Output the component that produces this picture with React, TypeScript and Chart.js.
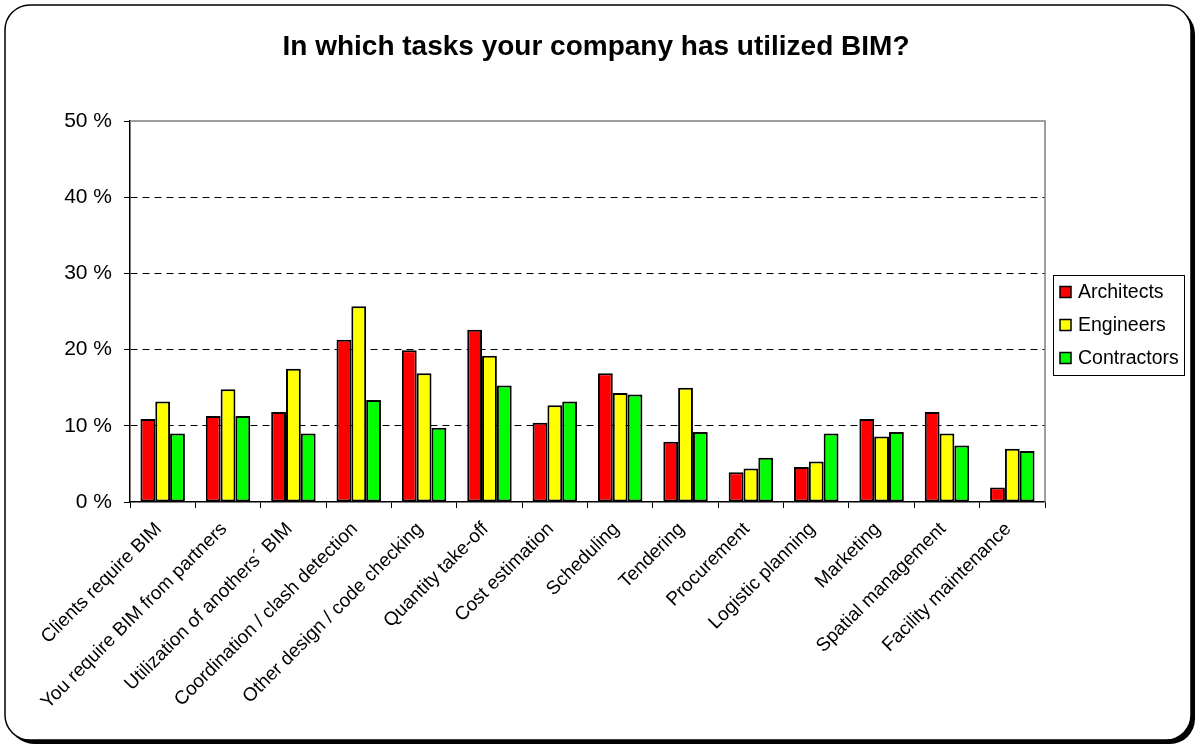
import { useEffect, useRef } from "react";
import { Chart, registerables } from "chart.js";

Chart.register(...registerables);

const categories = [
  "Clients require BIM",
  "You require BIM from partners",
  "Utilization of anothers´ BIM",
  "Coordination / clash detection",
  "Other design / code checking",
  "Quantity take-off",
  "Cost estimation",
  "Scheduling",
  "Tendering",
  "Procurement",
  "Logistic planning",
  "Marketing",
  "Spatial management",
  "Facility maintenance",
];

const architects = [10.9, 11.3, 11.8, 21.3, 19.9, 22.6, 10.4, 16.9, 7.9, 3.9, 4.6, 10.9, 11.8, 1.9];
const engineers = [13.2, 14.8, 17.5, 25.7, 16.9, 19.2, 12.7, 14.3, 15.0, 4.4, 5.3, 8.6, 9.0, 7.0];
const contractors = [9.0, 11.3, 9.0, 13.4, 9.75, 15.3, 13.2, 14.1, 9.2, 5.8, 9.0, 9.2, 7.4, 6.7];

const seriesNames = ["Architects", "Engineers", "Contractors"];
const seriesColors = ["#FF0000", "#FFFF00", "#00FF00"];
const yMin = 0;
const yMax = 50;
const yStep = 10;
const titleText = "In which tasks your company has utilized BIM?";

const FONT = "'Liberation Sans', Arial, Helvetica, sans-serif";

function roundRect(ctx: CanvasRenderingContext2D, x: number, y: number, w: number, h: number, r: number) {
  ctx.beginPath();
  ctx.moveTo(x + r, y);
  ctx.lineTo(x + w - r, y);
  ctx.arcTo(x + w, y, x + w, y + r, r);
  ctx.lineTo(x + w, y + h - r);
  ctx.arcTo(x + w, y + h, x + w - r, y + h, r);
  ctx.lineTo(x + r, y + h);
  ctx.arcTo(x, y + h, x, y + h - r, r);
  ctx.lineTo(x, y + r);
  ctx.arcTo(x, y, x + r, y, r);
  ctx.closePath();
}

export default function App() {
  const ref = useRef<HTMLCanvasElement>(null);

  useEffect(() => {
    document.body.style.margin = "0";
    const canvas = ref.current!;

    const framePlugin = {
      id: "frame",
      beforeDraw(chart: any) {
        const ctx = chart.ctx as CanvasRenderingContext2D;
        ctx.save();
        ctx.fillStyle = "#fff";
        ctx.fillRect(0, 0, chart.width, chart.height);
        ctx.fillStyle = "#000";
        roundRect(ctx, 9, 9, 1186, 735, 25);
        ctx.fill();
        ctx.fillStyle = "#fff";
        roundRect(ctx, 5, 5, 1186, 735, 25);
        ctx.fill();
        ctx.lineWidth = 1.5;
        ctx.strokeStyle = "#000";
        ctx.stroke();

        // title
        ctx.fillStyle = "#000";
        ctx.font = `bold 28px ${FONT}`;
        ctx.textAlign = "center";
        ctx.textBaseline = "alphabetic";
        ctx.fillText(titleText, 596, 55);
        ctx.restore();
      },
      afterDraw(chart: any) {
        const ctx = chart.ctx as CanvasRenderingContext2D;
        const { left, top, right, bottom } = chart.chartArea;
        ctx.save();
        // plot frame top and right
        ctx.strokeStyle = "#808080";
        ctx.lineWidth = 1.5;
        ctx.beginPath();
        ctx.moveTo(left, top);
        ctx.lineTo(right, top);
        ctx.lineTo(right, bottom);
        ctx.stroke();

        // legend
        const lx = 1053, ly = 275, lw = 131, lh = 100;
        ctx.strokeStyle = "#000";
        ctx.lineWidth = 1;
        ctx.strokeRect(lx + 0.5, ly + 0.5, lw, lh);
        ctx.font = `19.5px ${FONT}`;
        ctx.textBaseline = "middle";
        ctx.textAlign = "left";
        chart.data.datasets.forEach((ds: any, i: number) => {
          const cy = 292 + i * 33;
          ctx.fillStyle = ds.backgroundColor;
          ctx.fillRect(1060, cy - 5.5, 11, 11);
          ctx.strokeStyle = "#000";
          ctx.lineWidth = 1.5;
          ctx.strokeRect(1060, cy - 5.5, 11, 11);
          ctx.fillStyle = "#000";
          ctx.fillText(ds.label, 1078, cy + 1);
        });
        ctx.restore();
      },
    };

    const seriesData = [architects, engineers, contractors];

    const chart = new Chart(canvas, {
      type: "bar",
      data: {
        labels: categories,
        datasets: seriesNames.map((name, i) => ({
          label: name,
          data: seriesData[i],
          backgroundColor: seriesColors[i],
          borderColor: "#000",
          borderWidth: 2,
          borderSkipped: false,
          barPercentage: 1,
          categoryPercentage: 0.68,
        })),
      },
      options: {
        animation: false,
        responsive: false,
        devicePixelRatio: 1,
        layout: { padding: { left: 0, right: 151, top: 121, bottom: 0 } },
        plugins: {
          legend: { display: false },
          tooltip: { enabled: false },
          title: { display: false },
        },
        scales: {
          x: {
            afterFit: (scale: any) => {
              scale.height = 243;
            },
            grid: {
              drawOnChartArea: false,
              drawTicks: true,
              tickLength: 6,
              color: "#000",
              tickColor: "#000",
            },
            border: { color: "#000", width: 1.5 },
            ticks: {
              autoSkip: false,
              maxRotation: 45,
              minRotation: 45,
              padding: 10,
              labelOffset: -4,
              color: "#000",
              font: { family: FONT, size: 19 },
            },
          },
          y: {
            min: yMin,
            max: yMax,
            afterFit: (scale: any) => {
              scale.width = 130;
            },
            grid: {
              color: (c: any) =>
                c.tick && (c.tick.value === yMin || c.tick.value === yMax) ? "rgba(0,0,0,0)" : "#000",
              tickColor: "#000",
              tickLength: 6,
              lineWidth: 1,
            },
            border: { color: "#000", width: 1.5, dash: [7, 5] },
            ticks: {
              stepSize: yStep,
              padding: 12,
              color: "#000",
              font: { family: FONT, size: 21 },
              callback: (v: any) => `${v} %`,
            },
          },
        },
      },
      plugins: [framePlugin],
    } as any);

    return () => chart.destroy();
  }, []);

  return (
    <div style={{ position: "absolute", left: 0, top: 0, width: 1196, height: 745 }}>
      <canvas ref={ref} width={1196} height={745} style={{ width: 1196, height: 745, display: "block" }} />
    </div>
  );
}
